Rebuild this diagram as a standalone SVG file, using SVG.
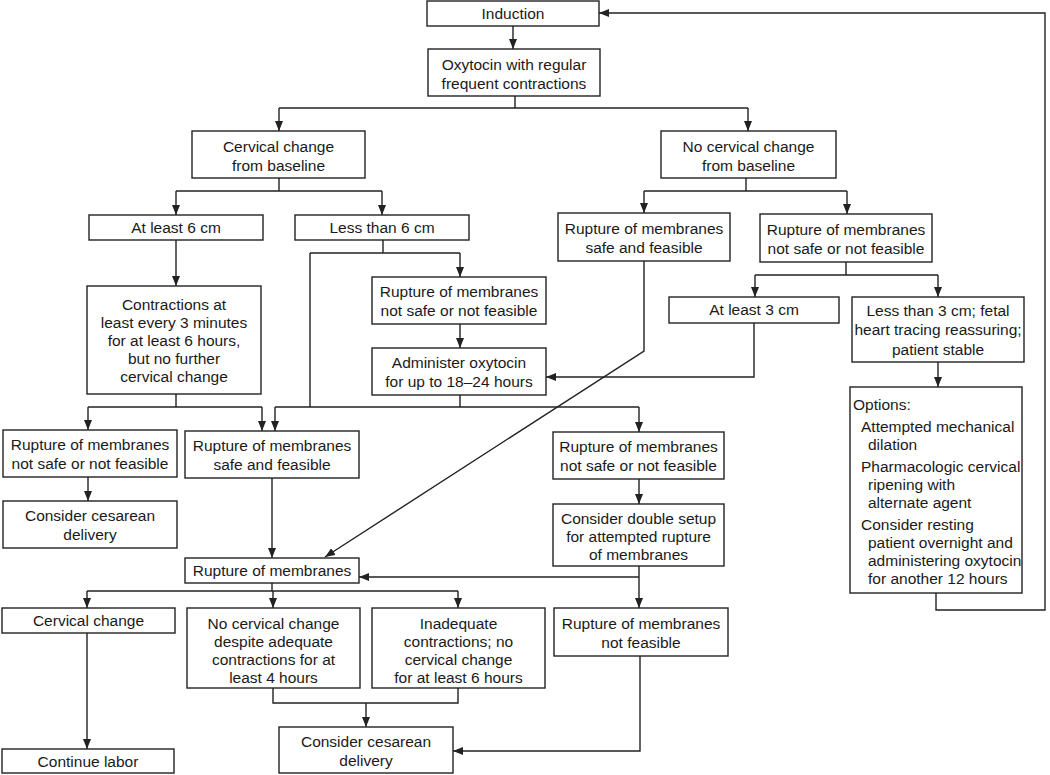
<svg xmlns="http://www.w3.org/2000/svg" width="1050" height="775" viewBox="0 0 1050 775">
<defs>
<style>
.b{fill:#fff;stroke:#222;stroke-width:1.4}
.t{font-family:"Liberation Sans",Arial,Helvetica,sans-serif;font-size:15.5px;fill:#1a1a1a;text-anchor:middle}
.l{text-anchor:start}
.c{fill:none;stroke:#222;stroke-width:1.4}
</style>
<marker id="a" viewBox="0 0 10 8" refX="10" refY="4" markerWidth="10" markerHeight="8" markerUnits="userSpaceOnUse" orient="auto"><path d="M0,0 L10,4 L0,8 z" fill="#222"/></marker>
</defs>
<rect width="1050" height="775" fill="#fff"/>
<g id="connectors">
<path class="c" d="M513,26 V49" marker-end="url(#a)"/>
<path class="c" d="M515,96 V108 M279,108 H748"/>
<path class="c" d="M279,108 V131" marker-end="url(#a)"/>
<path class="c" d="M748,108 V131" marker-end="url(#a)"/>
<path class="c" d="M279,178 V191 M176,191 H382"/>
<path class="c" d="M176,191 V215" marker-end="url(#a)"/>
<path class="c" d="M382,191 V215" marker-end="url(#a)"/>
<path class="c" d="M746,178 V191 M644,191 H847"/>
<path class="c" d="M644,191 V213" marker-end="url(#a)"/>
<path class="c" d="M847,191 V214" marker-end="url(#a)"/>
<path class="c" d="M176,240 V286" marker-end="url(#a)"/>
<path class="c" d="M383,240 V253 M310,253 H460 M310,253 V407"/>
<path class="c" d="M460,253 V277" marker-end="url(#a)"/>
<path class="c" d="M460,324 V348" marker-end="url(#a)"/>
<path class="c" d="M460,395 V407 M275,407 H639"/>
<path class="c" d="M275,407 V431" marker-end="url(#a)"/>
<path class="c" d="M639,407 V432" marker-end="url(#a)"/>
<path class="c" d="M176,394 V407 M88,407 H262"/>
<path class="c" d="M88,407 V430" marker-end="url(#a)"/>
<path class="c" d="M262,407 V431" marker-end="url(#a)"/>
<path class="c" d="M754,323 V377 H546" marker-end="url(#a)"/>
<path class="c" d="M846,262 V275 M755,275 H938"/>
<path class="c" d="M755,275 V297" marker-end="url(#a)"/>
<path class="c" d="M938,275 V297" marker-end="url(#a)"/>
<path class="c" d="M938,362 V387" marker-end="url(#a)"/>
<path class="c" d="M936,593 V610 H1045 V13 H599" marker-end="url(#a)"/>
<path class="c" d="M644,261 V351 L325,557" marker-end="url(#a)"/>
<path class="c" d="M88,477 V501" marker-end="url(#a)"/>
<path class="c" d="M272,478 V558" marker-end="url(#a)"/>
<path class="c" d="M639,479 V504" marker-end="url(#a)"/>
<path class="c" d="M639,566 V608" marker-end="url(#a)"/>
<path class="c" d="M639,577 H359" marker-end="url(#a)"/>
<path class="c" d="M272,583 V591 M87,591 H458"/>
<path class="c" d="M87,591 V608" marker-end="url(#a)"/>
<path class="c" d="M273,591 V608" marker-end="url(#a)"/>
<path class="c" d="M458,591 V608" marker-end="url(#a)"/>
<path class="c" d="M87,633 V749" marker-end="url(#a)"/>
<path class="c" d="M273,688 V703 H458 V688 M366,703 V727" marker-end="url(#a)"/>
<path class="c" d="M640,656 V751 H453" marker-end="url(#a)"/>
</g>
<g id="induction"><rect class="b" x="427" y="1" width="172" height="25"/><text class="t" x="513" y="19">Induction</text></g>
<g id="oxytocin"><rect class="b" x="428" y="49" width="172" height="47"/><text class="t" x="514" y="70">Oxytocin with regular</text><text class="t" x="514" y="89">frequent contractions</text></g>
<g id="cervical-change-baseline"><rect class="b" x="192" y="131" width="173" height="47"/><text class="t" x="278.5" y="152">Cervical change</text><text class="t" x="278.5" y="171">from baseline</text></g>
<g id="no-cervical-change-baseline"><rect class="b" x="661" y="131" width="175" height="47"/><text class="t" x="748.5" y="152">No cervical change</text><text class="t" x="748.5" y="171">from baseline</text></g>
<g id="at-least-6"><rect class="b" x="89" y="215" width="174" height="25"/><text class="t" x="176" y="233">At least 6 cm</text></g>
<g id="less-than-6"><rect class="b" x="295" y="215" width="174" height="25"/><text class="t" x="382" y="233">Less than 6 cm</text></g>
<g id="rom-safe-right"><rect class="b" x="558" y="213" width="172" height="48"/><text class="t" x="644" y="234">Rupture of membranes</text><text class="t" x="644" y="253">safe and feasible</text></g>
<g id="rom-notsafe-right"><rect class="b" x="760" y="214" width="172" height="48"/><text class="t" x="846" y="235">Rupture of membranes</text><text class="t" x="846" y="254">not safe or not feasible</text></g>
<g id="contractions"><rect class="b" x="87" y="286" width="174" height="108"/><text class="t" x="174" y="310">Contractions at</text><text class="t" x="174" y="328">least every 3 minutes</text><text class="t" x="174" y="346">for at least 6 hours,</text><text class="t" x="174" y="364">but no further</text><text class="t" x="174" y="382">cervical change</text></g>
<g id="rom-notsafe-mid"><rect class="b" x="372" y="277" width="174" height="47"/><text class="t" x="459" y="297">Rupture of membranes</text><text class="t" x="459" y="316">not safe or not feasible</text></g>
<g id="administer"><rect class="b" x="372" y="348" width="174" height="47"/><text class="t" x="459" y="368">Administer oxytocin</text><text class="t" x="459" y="387">for up to 18–24 hours</text></g>
<g id="at-least-3"><rect class="b" x="669" y="297" width="170" height="26"/><text class="t" x="754" y="315">At least 3 cm</text></g>
<g id="less-than-3"><rect class="b" x="852" y="297" width="172" height="65"/><text class="t" x="938" y="316">Less than 3 cm; fetal</text><text class="t" x="938" y="335">heart tracing reassuring;</text><text class="t" x="938" y="355">patient stable</text></g>
<g id="options"><rect class="b" x="850" y="387" width="172" height="206"/>
<text class="t l" x="853" y="410">Options:</text>
<text class="t l" x="861" y="432">Attempted mechanical</text>
<text class="t l" x="868" y="450">dilation</text>
<text class="t l" x="861" y="472">Pharmacologic cervical</text>
<text class="t l" x="868" y="490">ripening with</text>
<text class="t l" x="868" y="508">alternate agent</text>
<text class="t l" x="861" y="530">Consider resting</text>
<text class="t l" x="868" y="548">patient overnight and</text>
<text class="t l" x="868" y="566">administering oxytocin</text>
<text class="t l" x="868" y="584">for another 12 hours</text></g>
<g id="rom-notsafe-left"><rect class="b" x="3" y="430" width="174" height="47"/><text class="t" x="90" y="450">Rupture of membranes</text><text class="t" x="90" y="469">not safe or not feasible</text></g>
<g id="rom-safe-left"><rect class="b" x="185" y="431" width="174" height="47"/><text class="t" x="272" y="451">Rupture of membranes</text><text class="t" x="272" y="470">safe and feasible</text></g>
<g id="cesarean-left"><rect class="b" x="3" y="501" width="174" height="47"/><text class="t" x="90" y="521">Consider cesarean</text><text class="t" x="90" y="540">delivery</text></g>
<g id="rom-notsafe-right2"><rect class="b" x="553" y="432" width="171" height="47"/><text class="t" x="638.5" y="452">Rupture of membranes</text><text class="t" x="638.5" y="471">not safe or not feasible</text></g>
<g id="double-setup"><rect class="b" x="553" y="504" width="171" height="62"/><text class="t" x="638.5" y="524">Consider double setup</text><text class="t" x="638.5" y="542">for attempted rupture</text><text class="t" x="638.5" y="560">of membranes</text></g>
<g id="rupture-of-membranes"><rect class="b" x="185" y="558" width="174" height="25"/><text class="t" x="272" y="576">Rupture of membranes</text></g>
<g id="cervical-change"><rect class="b" x="2" y="608" width="173" height="25"/><text class="t" x="88.5" y="626">Cervical change</text></g>
<g id="no-change-despite"><rect class="b" x="187" y="608" width="173" height="80"/><text class="t" x="273.5" y="629">No cervical change</text><text class="t" x="273.5" y="647">despite adequate</text><text class="t" x="273.5" y="665">contractions for at</text><text class="t" x="273.5" y="683">least 4 hours</text></g>
<g id="inadequate"><rect class="b" x="372" y="608" width="173" height="80"/><text class="t" x="458.5" y="629">Inadequate</text><text class="t" x="458.5" y="647">contractions; no</text><text class="t" x="458.5" y="665">cervical change</text><text class="t" x="458.5" y="683">for at least 6 hours</text></g>
<g id="rom-not-feasible"><rect class="b" x="554" y="608" width="174" height="48"/><text class="t" x="641" y="629">Rupture of membranes</text><text class="t" x="641" y="648">not feasible</text></g>
<g id="continue-labor"><rect class="b" x="2" y="749" width="172" height="24"/><text class="t" x="88" y="767">Continue labor</text></g>
<g id="cesarean-bottom"><rect class="b" x="279" y="727" width="174" height="46"/><text class="t" x="366" y="747">Consider cesarean</text><text class="t" x="366" y="766">delivery</text></g>
</svg>
